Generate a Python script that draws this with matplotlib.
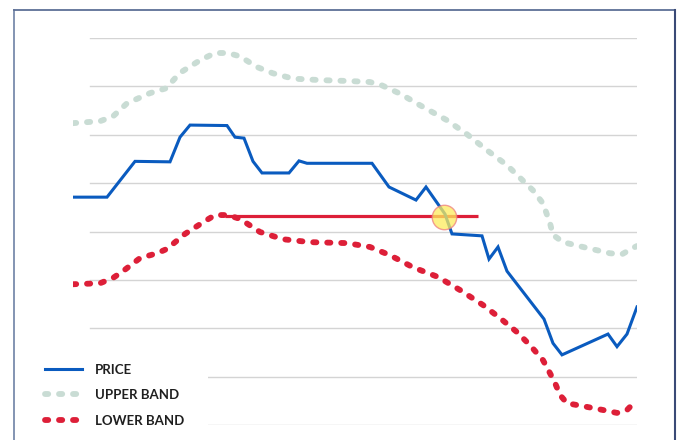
import matplotlib
matplotlib.use("Agg")
import matplotlib.pyplot as plt
from matplotlib.lines import Line2D
from matplotlib.patches import Rectangle

# ---- data (x in unlabelled time units, y in price units; gridlines at integers) ----
price_x = [0, 34, 62, 97, 107, 117, 154, 162, 171, 180, 189, 216, 226, 234, 299,
           316, 343, 353, 372, 379, 409, 416, 425, 434, 471, 480, 489, 535, 544, 554, 564]
price_y = [4.71, 4.71, 5.45, 5.44, 5.95, 6.20, 6.19, 5.95, 5.93, 5.45, 5.21, 5.21, 5.46,
           5.41, 5.41, 4.92, 4.65, 4.92, 4.36, 3.95, 3.91, 3.43, 3.68, 3.18, 2.19, 1.69,
           1.45, 1.88, 1.62, 1.88, 2.44]

upper_x = [0, 27, 40, 54, 77, 93, 107, 127, 142, 155, 167, 184, 200, 220, 247, 277, 297,
           309, 327, 347, 374, 394, 414, 434, 452, 460, 470, 477, 480, 490, 510, 537, 549, 560, 564]
upper_y = [6.24, 6.28, 6.38, 6.65, 6.86, 6.96, 7.28, 7.54, 7.69, 7.69, 7.62, 7.40, 7.27,
           7.16, 7.13, 7.11, 7.09, 7.02, 6.85, 6.61, 6.30, 6.01, 5.68, 5.37, 5.01, 4.85,
           4.58, 4.17, 3.93, 3.78, 3.68, 3.55, 3.53, 3.66, 3.70]

lower_x = [0, 27, 40, 50, 67, 84, 94, 112, 130, 142, 155, 167, 187, 210, 237, 274, 297,
           317, 340, 365, 387, 410, 427, 444, 457, 470, 477, 482, 487, 494, 510, 530, 544,
           554, 562, 564]
lower_y = [2.91, 2.93, 3.04, 3.18, 3.45, 3.55, 3.64, 3.95, 4.19, 4.34, 4.34, 4.26, 3.99,
           3.84, 3.78, 3.76, 3.68, 3.51, 3.26, 3.06, 2.79, 2.48, 2.21, 1.92, 1.65, 1.34,
           1.07, 0.87, 0.62, 0.45, 0.39, 0.31, 0.25, 0.31, 0.48, 0.52]

level_x = [152, 405]
level_y = 4.33
signal_x = 371
signal_y = 4.30

labels = ["PRICE", "UPPER BAND", "LOWER BAND"]

# ---- styling ----
BLUE = "#0a5bbf"
GREY = "#c9dcd4"
RED = "#dd1f38"
GRID = "#d4d4d4"

W, H = 681, 440
fig = plt.figure(figsize=(W / 100, H / 100), dpi=100)
fig.patch.set_facecolor("white")

# axes spans pixels x 73..637, y 38..425 (top..bottom)
ax = fig.add_axes([73 / W, 1 - 425 / H, (637 - 73) / W, (425 - 38) / H])
ax.set_xlim(0, 564)
ax.set_ylim(0, 8)
ax.axis("off")

for g in range(0, 9):
    ax.axhline(g, xmin=17 / 564, xmax=1, color=GRID, lw=1.0, zorder=0.5)

dot = dict(lw=4.2, dash_capstyle="round", solid_capstyle="round")
l_up, = ax.plot(upper_x, upper_y, color=GREY, linestyle=(0, (0.55, 1.85)), zorder=2,
                label=labels[1], **dot)
l_lo, = ax.plot(lower_x, lower_y, color=RED, linestyle=(0, (0.55, 1.85)), zorder=2,
                label=labels[2], **dot)
ax.plot(level_x, [level_y, level_y], color=RED, lw=2.3, zorder=3, solid_capstyle="butt")
l_pr, = ax.plot(price_x, price_y, color=BLUE, lw=2.2, zorder=4, label=labels[0],
                solid_joinstyle="miter")
ax.scatter([signal_x], [signal_y], s=310, facecolor="#fdeb5c", edgecolor="#ee7f7f",
           linewidth=1.0, alpha=0.75, zorder=5, clip_on=False)

# white block behind legend (hides gridlines there)
fig.add_artist(Rectangle((14 / W, 0), (208 - 14) / W, (440 - 352) / H,
                         transform=fig.transFigure, facecolor="white",
                         edgecolor="none", zorder=1))

leg = fig.legend(handles=[l_pr, l_up, l_lo], labels=labels,
                 loc="upper left", bbox_to_anchor=(38 / W, 1 - 357 / H),
                 frameon=False, handlelength=2.85, handletextpad=0.95,
                 labelspacing=1.02, borderpad=0.0,
                 prop=dict(family="Lato", weight="bold", size=9.5))
for t in leg.get_texts():
    t.set_color("#1f1f1f")
leg.set_zorder(6)

# outer frame
fig.add_artist(Line2D([13.5 / W, 13.5 / W], [0, 1 - 10 / H], transform=fig.transFigure,
                      color="#7a8bad", lw=1.3))
fig.add_artist(Line2D([13.5 / W, 675 / W], [1 - 10 / H, 1 - 10 / H], transform=fig.transFigure,
                      color="#5d6f96", lw=1.3))
fig.add_artist(Line2D([675 / W, 675 / W], [0, 1 - 10 / H], transform=fig.transFigure,
                      color="#3a4a76", lw=1.5))

fig.savefig("out.png", dpi=100, facecolor="white")
